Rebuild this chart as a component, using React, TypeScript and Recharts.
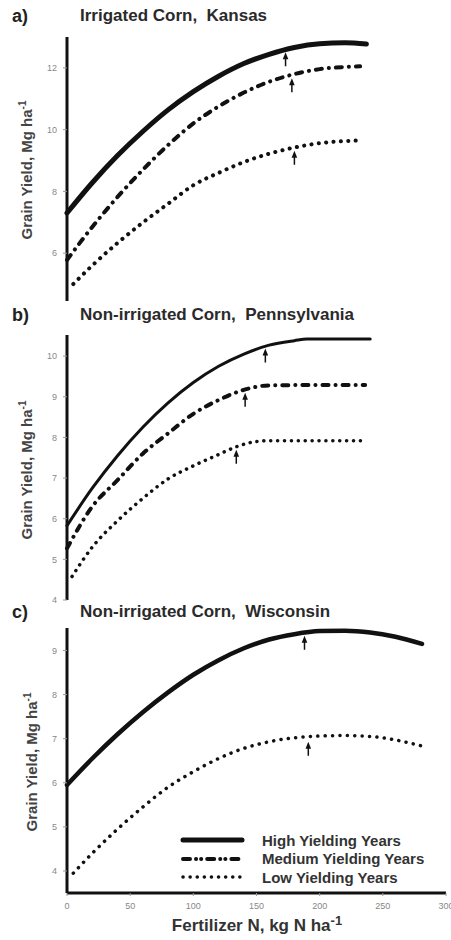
import React from "react";
import { ComposedChart, Line, Scatter, XAxis, YAxis } from "recharts";

// Panel a) Irrigated corn, Kansas
const kansasHighN = [0, 20, 40, 60, 80, 100, 120, 140, 160, 180, 200, 220, 237];
const kansasHigh = [7.3, 8.28, 9.16, 9.94, 10.64, 11.23, 11.73, 12.14, 12.44, 12.66, 12.78, 12.81, 12.77];
const kansasMediumN = [0, 20, 40, 60, 80, 100, 120, 140, 160, 180, 200, 220, 232];
const kansasMedium = [5.78, 6.85, 7.82, 8.7, 9.5, 10.2, 10.75, 11.2, 11.55, 11.8, 11.96, 12.03, 12.05];
const kansasLowN = [5, 20, 40, 60, 80, 100, 120, 140, 160, 180, 200, 220, 232];
const kansasLow = [5.0, 5.6, 6.33, 6.99, 7.6, 8.2, 8.6, 8.95, 9.22, 9.42, 9.56, 9.63, 9.65];
const kansasArrowN = [173, 178, 180];
const kansasArrowY = [12.6, 11.76, 9.41];

// Panel b) Non-irrigated corn, Pennsylvania
const pennHighN = [0, 20, 40, 60, 80, 100, 120, 140, 160, 180, 190, 210, 240];
const pennHigh = [5.83, 6.75, 7.55, 8.25, 8.85, 9.35, 9.75, 10.05, 10.27, 10.38, 10.42, 10.42, 10.42];
const pennMediumN = [0, 20, 40, 60, 80, 100, 120, 140, 160, 200, 236];
const pennMedium = [5.27, 6.3, 6.95, 7.6, 8.1, 8.58, 8.92, 9.17, 9.28, 9.29, 9.29];
const pennLowN = [4, 20, 40, 60, 80, 100, 120, 134, 150, 160, 200, 235];
const pennLow = [4.58, 5.3, 5.95, 6.5, 6.98, 7.3, 7.58, 7.77, 7.9, 7.92, 7.92, 7.92];
const pennArrowN = [157, 141, 134];
const pennArrowY = [10.26, 9.17, 7.77];

// Panel c) Non-irrigated corn, Wisconsin
const wiscHighN = [0, 20, 40, 60, 80, 100, 120, 140, 160, 180, 200, 220, 240, 260, 281];
const wiscHigh = [5.95, 6.55, 7.1, 7.6, 8.05, 8.45, 8.78, 9.05, 9.25, 9.37, 9.44, 9.45, 9.41, 9.31, 9.15];
const wiscLowN = [5, 20, 40, 60, 80, 100, 120, 140, 160, 180, 200, 220, 240, 260, 280];
const wiscLow = [3.95, 4.4, 4.95, 5.45, 5.9, 6.25, 6.55, 6.78, 6.93, 7.02, 7.06, 7.07, 7.05, 6.97, 6.84];
const wiscArrowN = [188, 191];
const wiscArrowY = [9.4, 7.0];

const xTicks = [0, 50, 100, 150, 200, 250, 300];
const legendLabels = ["High Yielding Years", "Medium Yielding Years", "Low Yielding Years"];

const zip = (xs: number[], ys: number[]) => xs.map((n, i) => ({ n, y: ys[i] }));

const FONT = "'Liberation Sans', Arial, sans-serif";
const INK = "#111";

const HIGH_DASH = undefined;
const MEDIUM_DASH = "6 7 0.1 7";

// small upward arrow drawn just under a curve point
const makeArrow = (offset: number) => (props: any) => {
  const { cx, cy } = props;
  if (cx == null || cy == null) return <g />;
  const tip = cy + offset;
  return (
    <g>
      <line x1={cx} y1={tip + 4} x2={cx} y2={tip + 14} stroke={INK} strokeWidth={1.5} />
      <path d={`M${cx - 2.8},${tip + 7} L${cx},${tip} L${cx + 2.8},${tip + 7} Z`} fill={INK} />
    </g>
  );
};

interface SeriesDef {
  data: { n: number; y: number }[];
  width: number;
  dash?: string;
}

interface PanelProps {
  top: number;
  height: number;
  marginTop: number;
  marginBottom: number;
  domain: [number, number];
  ticks: number[];
  showX: boolean;
  series: SeriesDef[];
  arrows: { n: number; y: number }[];
  arrowOffset: number;
}

const Panel: React.FC<PanelProps> = ({ top, height, marginTop, marginBottom, domain, ticks, showX, series, arrows, arrowOffset }) => (
  <div style={{ position: "absolute", left: 0, top, width: 451, height }}>
    <ComposedChart width={451} height={height} margin={{ top: marginTop, right: 5, bottom: marginBottom, left: 0 }}>
      <XAxis
        type="number"
        dataKey="n"
        domain={[0, 300]}
        ticks={xTicks}
        hide={!showX}
        height={showX ? 47 : 0}
        axisLine={{ stroke: INK, strokeWidth: 3 }}
        tickLine={{ stroke: "#999" }}
        tickSize={3}
        tickMargin={7}
        tick={{ fontSize: 9, fill: "#888", fontFamily: FONT }}
        interval={0}
      />
      <YAxis
        type="number"
        dataKey="y"
        domain={domain}
        ticks={ticks}
        width={67}
        allowDataOverflow
        interval={0}
        axisLine={{ stroke: INK, strokeWidth: 3 }}
        tickLine={{ stroke: "#999" }}
        tickSize={4}
        tickMargin={6}
        tick={{ fontSize: 9, fill: "#888", fontFamily: FONT }}
      />
      {series.map((s, i) => (
        <Line
          key={i}
          data={s.data}
          dataKey="y"
          type="monotone"
          stroke={INK}
          strokeWidth={s.width}
          strokeDasharray={s.dash}
          strokeLinecap="round"
          dot={false}
          activeDot={false}
          isAnimationActive={false}
        />
      ))}
      <Scatter data={arrows} dataKey="y" shape={makeArrow(arrowOffset)} isAnimationActive={false} />
    </ComposedChart>
  </div>
);

const PanelText: React.FC<{ letter: string; title: string; y: number }> = ({ letter, title, y }) => (
  <>
    <div style={{ position: "absolute", left: 12, top: y - 11, fontFamily: FONT, fontWeight: "bold", fontSize: 18, lineHeight: "22px", color: "#222" }}>
      {letter}
    </div>
    <div style={{ position: "absolute", left: 80, top: y - 11, fontFamily: FONT, fontWeight: "bold", fontSize: 17, lineHeight: "22px", color: "#2a2a2a", whiteSpace: "pre" }}>
      {title}
    </div>
  </>
);

const Sup: React.FC<{ size: number; raise: number; children: React.ReactNode }> = ({ size, raise, children }) => (
  <span style={{ fontSize: size, position: "relative", top: -raise }}>{children}</span>
);

const YLabel: React.FC<{ cx: number; cy: number }> = ({ cx, cy }) => (
  <div
    style={{
      position: "absolute",
      left: cx - 100,
      top: cy - 10,
      width: 200,
      height: 20,
      lineHeight: "20px",
      textAlign: "center",
      transform: "rotate(-90deg)",
      fontFamily: FONT,
      fontWeight: "bold",
      fontSize: 15,
      color: "#444",
      whiteSpace: "nowrap",
    }}
  >
    Grain Yield, Mg ha<Sup size={10} raise={6}>-1</Sup>
  </div>
);

const LegendSample: React.FC<{ width: number; dash?: string }> = ({ width, dash }) => (
  <svg width={66} height={10} style={{ display: "block" }}>
    <line x1={3} y1={5} x2={62} y2={5} stroke={INK} strokeWidth={width} strokeDasharray={dash} strokeLinecap="round" />
  </svg>
);

export default function App() {
  const legendStyles = [
    { width: 5, dash: HIGH_DASH },
    { width: 4, dash: "7 6 0.1 5 0.1 6" },
    { width: 3.5, dash: "0.1 7" },
  ];

  return (
    <div style={{ position: "absolute", left: 0, top: 0, width: 451, height: 940, background: "#fff", overflow: "hidden" }}>
      <Panel
        top={0}
        height={305}
        marginTop={37}
        marginBottom={4}
        domain={[4.45, 13]}
        ticks={[6, 8, 10, 12]}
        showX={false}
        series={[
          { data: zip(kansasHighN, kansasHigh), width: 5, dash: HIGH_DASH },
          { data: zip(kansasMediumN, kansasMedium), width: 4, dash: MEDIUM_DASH },
          { data: zip(kansasLowN, kansasLow), width: 4, dash: "0.1 7.3" },
        ]}
        arrows={zip(kansasArrowN, kansasArrowY)}
        arrowOffset={3}
      />
      <Panel
        top={300}
        height={305}
        marginTop={35}
        marginBottom={5}
        domain={[4, 10.52]}
        ticks={[4, 5, 6, 7, 8, 9, 10]}
        showX={false}
        series={[
          { data: zip(pennHighN, pennHigh), width: 3, dash: HIGH_DASH },
          { data: zip(pennMediumN, pennMedium), width: 4, dash: MEDIUM_DASH },
          { data: zip(pennLowN, pennLow), width: 3.5, dash: "0.1 6.8" },
        ]}
        arrows={zip(pennArrowN, pennArrowY)}
        arrowOffset={3}
      />
      <Panel
        top={600}
        height={340}
        marginTop={28}
        marginBottom={0}
        domain={[3.5, 9.51]}
        ticks={[4, 5, 6, 7, 8, 9]}
        showX={true}
        series={[
          { data: zip(wiscHighN, wiscHigh), width: 4.5, dash: HIGH_DASH },
          { data: zip(wiscLowN, wiscLow), width: 3.5, dash: "0.1 7.3" },
        ]}
        arrows={zip(wiscArrowN, wiscArrowY)}
        arrowOffset={3}
      />

      <PanelText letter="a)" title="Irrigated Corn,  Kansas" y={16} />
      <PanelText letter="b)" title="Non-irrigated Corn,  Pennsylvania" y={315} />
      <PanelText letter="c)" title="Non-irrigated Corn,  Wisconsin" y={612} />

      <YLabel cx={27} cy={170} />
      <YLabel cx={27} cy={470} />
      <YLabel cx={32} cy={762} />

      <div style={{ position: "absolute", left: 180, top: 831 }}>
        {legendLabels.map((label, i) => (
          <div key={label} style={{ display: "flex", alignItems: "center", height: 18.5 }}>
            <LegendSample width={legendStyles[i].width} dash={legendStyles[i].dash} />
            <span style={{ marginLeft: 16, fontFamily: FONT, fontWeight: "bold", fontSize: 15, color: "#333", whiteSpace: "nowrap" }}>
              {label}
            </span>
          </div>
        ))}
      </div>

      <div
        style={{
          position: "absolute",
          left: 57,
          width: 400,
          top: 915,
          height: 22,
          textAlign: "center",
          fontFamily: FONT,
          fontWeight: "bold",
          fontSize: 17,
          lineHeight: "22px",
          color: "#333",
          whiteSpace: "nowrap",
        }}
      >
        Fertilizer N, kg N ha<Sup size={13} raise={6}>-1</Sup>
      </div>
    </div>
  );
}
